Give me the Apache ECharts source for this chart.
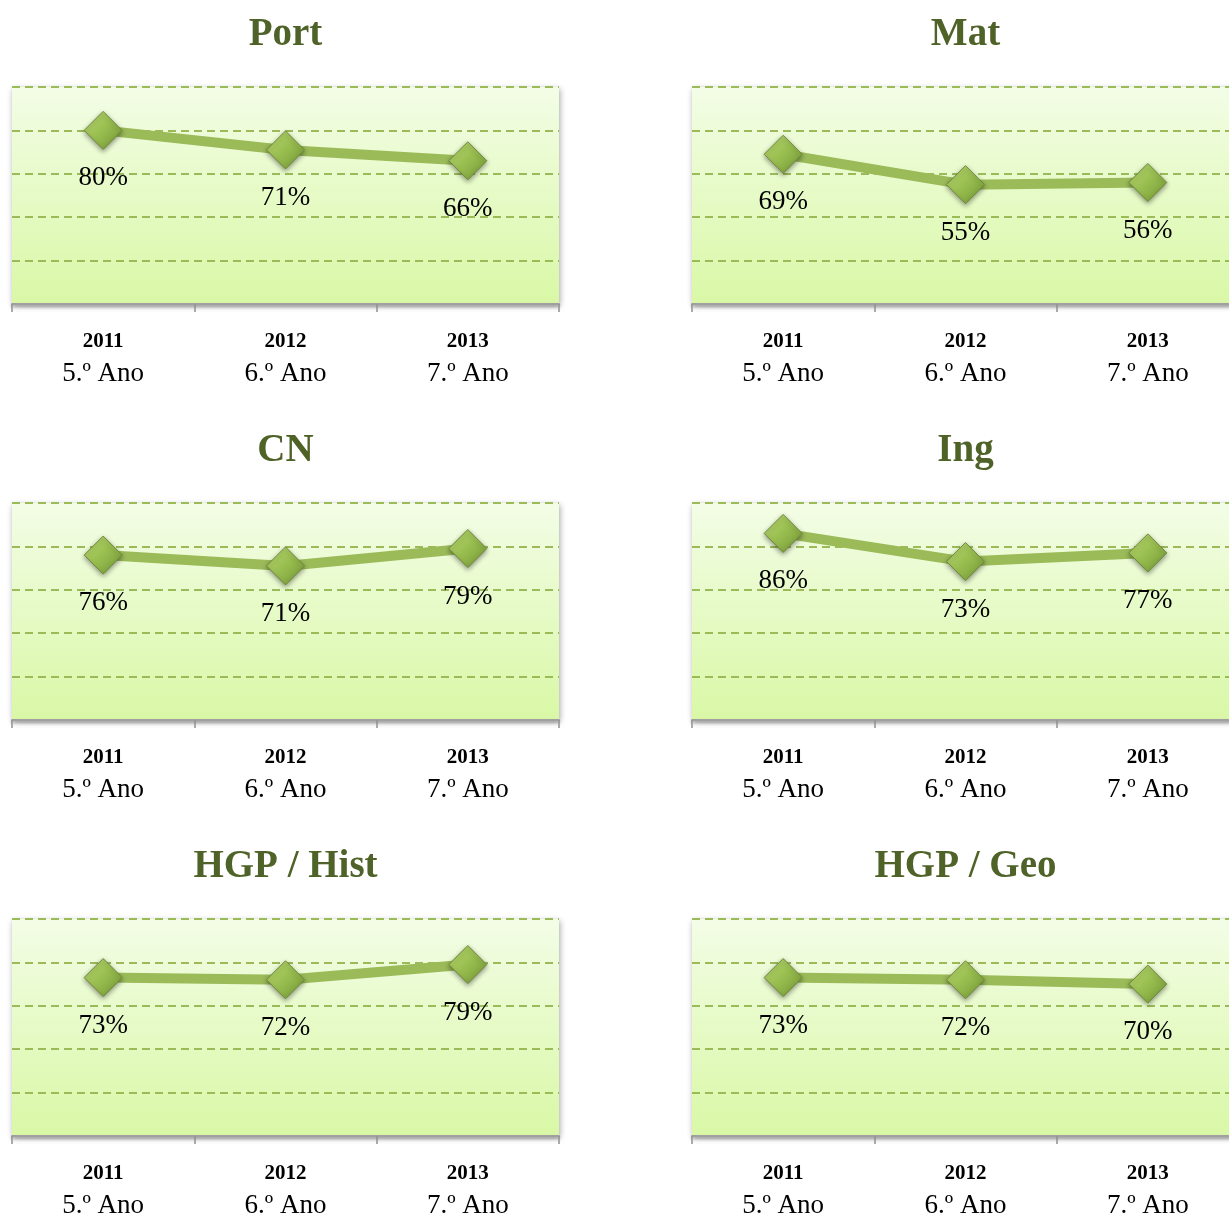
<!DOCTYPE html>
<html>
<head>
<meta charset="utf-8">
<script src="https://cdn.jsdelivr.net/npm/echarts@6/dist/echarts.min.js"></script>
<style>
html,body{margin:0;padding:0;background:#fff;}
#c{width:1229px;height:1216px;}
</style>
</head>
<body>
<div id="c"></div>
<script>
const years = ['2011', '2012', '2013'];
const grades = ['5.º Ano', '6.º Ano', '7.º Ano'];
const titles = ['Port', 'Mat', 'CN', 'Ing', 'HGP / Hist', 'HGP / Geo'];
const port = [80, 71, 66];
const mat = [69, 55, 56];
const cn = [76, 71, 79];
const ing = [86, 73, 77];
const hist = [73, 72, 79];
const geo = [73, 72, 70];
const seriesData = [port, mat, cn, ing, hist, geo];
const yTicks = [0, 20, 40, 60, 80, 100];

const FONT = '"Liberation Serif", "DejaVu Serif", serif';
const chart = echarts.init(document.getElementById('c'));

const colLeft = [12, 692];
const rowTop = [87, 503, 919];
const gW = 547, gH = 217;

const grids = [], xAxes = [], yAxes = [], series = [], titleArr = [];
for (let i = 0; i < 6; i++) {
  const col = i % 2, row = Math.floor(i / 2);
  const left = colLeft[col], top = rowTop[row];
  grids.push({
    left: left, top: top, width: gW, height: gH,
    outerBoundsMode: 'none', containLabel: false,
    show: true, borderWidth: 0,
    backgroundColor: new echarts.graphic.LinearGradient(0, 0, 0, 1, [
      {offset: 0, color: '#f3fde6'},
      {offset: 1, color: '#d9f8a6'}
    ]),
    shadowBlur: 6, shadowColor: 'rgba(0,0,0,0.35)', shadowOffsetX: 1, shadowOffsetY: 2
  });
  titleArr.push({
    text: titles[i], left: left + gW / 2, top: top - 72, textAlign: 'center', padding: 0,
    textStyle: {fontFamily: FONT, fontWeight: 'bold', fontSize: 39, color: '#4f6228'}
  });
  xAxes.push({
    gridIndex: i, type: 'category', data: years.map((y, k) => y + '\n' + grades[k]),
    boundaryGap: true,
    axisLine: {lineStyle: {color: '#a0a0a0', width: 2, shadowBlur: 3, shadowColor: 'rgba(0,0,0,0.3)', shadowOffsetY: 2}},
    axisTick: {show: true, length: 8, lineStyle: {color: '#909090', width: 1.5}},
    axisLabel: {
      margin: 23,
      formatter: function (v) {
        const p = v.split('\n');
        return '{y|' + p[0] + '}\n{a|' + p[1] + '}';
      },
      rich: {
        y: {fontFamily: FONT, fontSize: 21, fontWeight: 'bold', color: '#000', lineHeight: 30},
        a: {fontFamily: FONT, fontSize: 27, color: '#000', lineHeight: 33}
      }
    },
    splitLine: {show: false}
  });
  yAxes.push({
    gridIndex: i, type: 'value', min: yTicks[0], max: yTicks[yTicks.length - 1], interval: yTicks[1] - yTicks[0],
    axisLabel: {show: false}, axisLine: {show: false}, axisTick: {show: false},
    splitLine: {show: true, lineStyle: {color: '#9bbb59', width: 2, type: [8, 5]}}
  });
  series.push({
    type: 'line', xAxisIndex: i, yAxisIndex: i, data: seriesData[i],
    lineStyle: {color: '#9bbb59', width: 10},
    symbol: 'diamond', symbolSize: [38, 38],
    itemStyle: {
      color: new echarts.graphic.LinearGradient(0, 0, 1, 1, [
        {offset: 0, color: '#bcdc72'},
        {offset: 0.5, color: '#98bd4f'},
        {offset: 1, color: '#729634'}
      ]),
      borderColor: '#6e8a3a', borderWidth: 1,
      shadowBlur: 5, shadowColor: 'rgba(0,0,0,0.4)', shadowOffsetY: 2
    },
    label: {
      show: true, position: 'bottom', distance: 15,
      formatter: '{c}%',
      fontFamily: FONT, fontSize: 27, color: '#000'
    },
    emphasis: {disabled: true},
    animation: false
  });
}

chart.setOption({
  animation: false,
  title: titleArr,
  grid: grids,
  xAxis: xAxes,
  yAxis: yAxes,
  series: series
});
</script>
</body>
</html>
